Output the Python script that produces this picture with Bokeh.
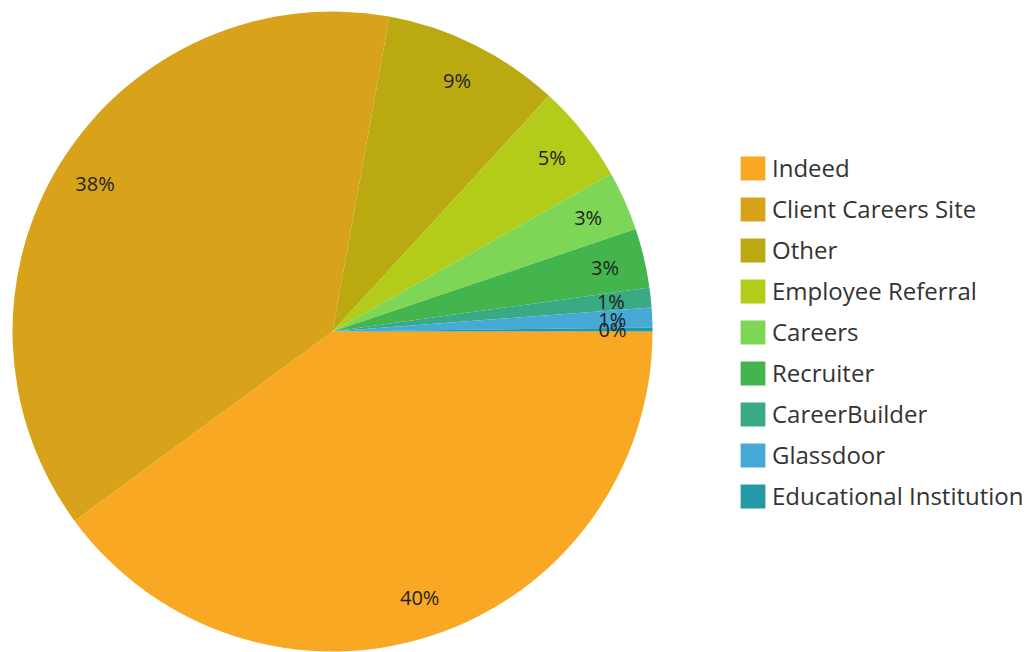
import math
from bokeh.plotting import figure
from bokeh.models import ColumnDataSource, Range1d, Legend, LegendItem
from bokeh.core.properties import value
from bokeh.embed import file_html
from bokeh.resources import INLINE

categories = ["Indeed", "Client Careers Site", "Other", "Employee Referral", "Careers",
              "Recruiter", "CareerBuilder", "Glassdoor", "Educational Institution"]
shares = [40.0, 38.0, 9.0, 5.0, 3.0, 3.0, 1.0, 1.0, 0.2]
colors = ["#F9A823", "#D8A21A", "#BBA912", "#B3CC1A", "#7DD655",
          "#44B54D", "#3AAA85", "#46A9D6", "#2399A6"]

W, H = 1027, 652
cx, cy, R = 332, 652 - 331, 320

total = sum(shares)
starts, ends, lx, ly, labels = [], [], [], [], []
acc = 0.0
for s in shares:
    a0 = -2 * math.pi * acc / total
    acc += s
    a1 = -2 * math.pi * acc / total
    starts.append(a0)
    ends.append(a1)
    mid = (a0 + a1) / 2
    lx.append(cx + 0.875 * R * math.cos(mid))
    ly.append(cy + 0.875 * R * math.sin(mid))
    labels.append(f"{round(s)}%")

src = ColumnDataSource(dict(cat=categories, start=starts, end=ends, color=colors,
                            lx=lx, ly=ly, label=labels))

p = figure(width=W, height=H, output_backend="svg", toolbar_location=None,
           x_range=Range1d(0, W), y_range=Range1d(0, H), min_border=0)
p.axis.visible = False
p.grid.visible = False
p.outline_line_color = None
p.background_fill_color = "white"

r = p.wedge(x=cx, y=cy, radius=R, start_angle="start", end_angle="end",
            direction="clock", fill_color="color", line_color=None, source=src)

p.text(x="lx", y="ly", text="label", source=src, text_align="center",
       text_baseline="middle", text_font=value("Open Sans"), text_font_size="20px",
       text_color="#222222")

items = [LegendItem(label=c, renderers=[r], index=i) for i, c in enumerate(categories)]
legend = Legend(items=items, location=(737, 140), orientation="vertical",
                glyph_width=31, glyph_height=30, label_height=30, label_standoff=4,
                spacing=8, padding=0, margin=0, border_line_color=None,
                background_fill_alpha=0,
                label_text_font="Open Sans", label_text_font_size="24px",
                label_text_color="#333333", label_text_baseline="middle")
p.add_layout(legend)

open("out.html", "w").write(file_html(p, INLINE))
